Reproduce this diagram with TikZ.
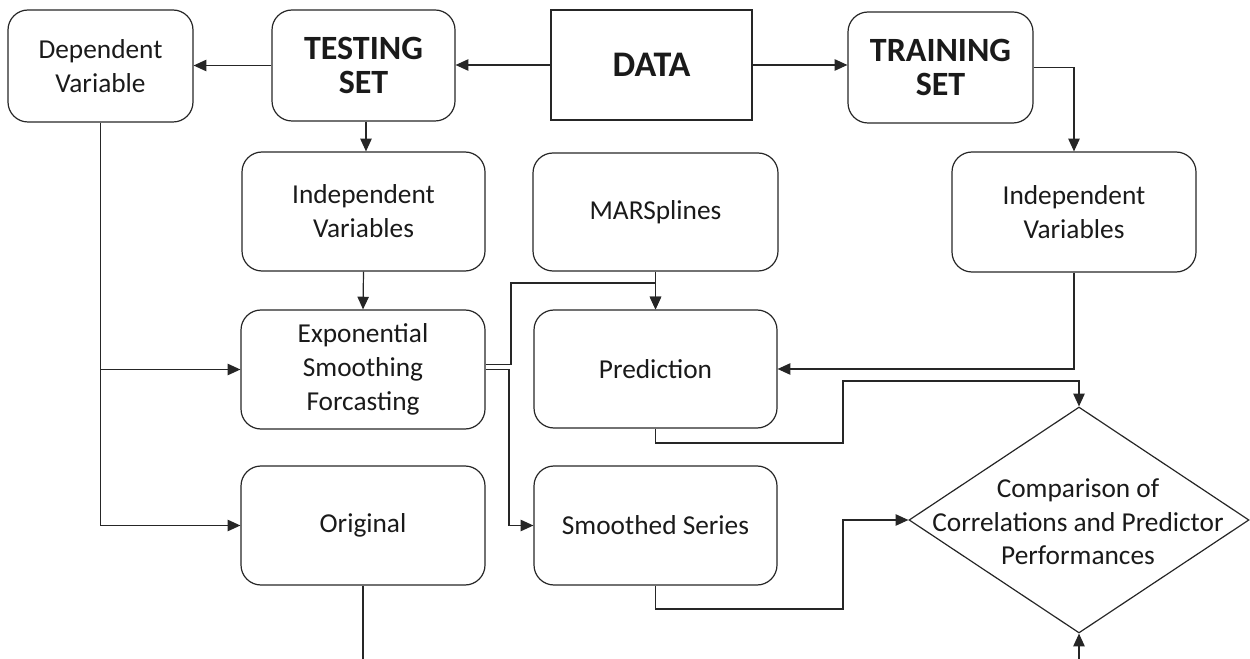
\documentclass[tikz,border=0pt]{standalone}
\usepackage{fontspec}
\setmainfont{Carlito}
\usetikzlibrary{arrows.meta,shapes.geometric,calc}
\definecolor{ink}{HTML}{1A1A1A}
\definecolor{wire}{HTML}{262626}
\begin{document}
\begin{tikzpicture}[x=0.75pt,y=-0.75pt,
  every node/.style={text=ink},
  box/.style 2 args={draw=wire,line width=0.9pt,rounded corners=15pt,align=center,
    inner sep=0pt,minimum width={#1*0.75pt},minimum height={#2*0.75pt},
    font=\fontsize{20.5pt}{25.5pt}\selectfont},
  plainbox/.style 2 args={draw=wire,line width=0.9pt,align=center,
    inner sep=0pt,minimum width={#1*0.75pt},minimum height={#2*0.75pt}},
  headfont/.style={font=\fontsize{25.5pt}{26pt}\selectfont\bfseries},
  link/.style={draw=wire,line width=0.9pt},
  arr/.style={link,-{Triangle[length=9.5pt,width=8.5pt]}}]

\useasboundingbox (0,0) rectangle (1250,659);

% top row
\node[box={185}{112}] (dep) at (100.5,66) {Dependent\\Variable};
\node[box={183}{111},headfont] (test) at (363.5,65.5) {TESTING\\SET};
\node[plainbox={201}{110},font=\fontsize{27pt}{27pt}\selectfont\bfseries] (data) at (651.5,65) {DATA};
\node[box={185}{111},headfont] (train) at (940.5,67.5) {TRAINING\\SET};

% second row
\node[box={243}{119}] (ind1) at (363.5,211.5) {Independent\\Variables};
\node[box={245}{118}] (mars) at (655.5,212) {MARSplines};
\node[box={244}{120}] (ind2) at (1074,212) {Independent\\Variables};

% third row
\node[box={244}{119}] (exp) at (363,369.5) {Exponential\\Smoothing\\Forcasting};
\node[box={243}{118}] (pred) at (655.5,369) {Prediction};

% fourth row
\node[box={244}{119}] (orig) at (363,525.5) {Original};
\node[box={243}{119}] (smooth) at (655.5,525.5) {Smoothed Series};

% decision
\node[diamond,draw=wire,line width=0.9pt,inner sep=0pt,
  minimum width=255pt,minimum height=169.5pt] (cmp) at (1079,520) {};
\node[align=center,font=\fontsize{20.5pt}{25pt}\selectfont] (cmptxt) at (1078,522)
  {Comparison of\\Correlations and Predictor\\Performances};

% routing points
\coordinate (e1) at ([yshift=3.75pt]exp.east);
\coordinate (k1) at (511,283);
\coordinate (k2) at (509,0);
\coordinate (p1) at (843,443);
\coordinate (p2) at (843,381);
\coordinate (s1) at (843,609);
\coordinate (oend) at (363,659);
\coordinate (cend) at (1079,659);

% splitting the data
\draw[arr] (test.west) -- (test.west -| dep.east);
\draw[arr] (data.west) -- (data.west -| test.east);
\draw[arr] (data.east) -- (data.east -| train.west);
\draw[arr] (train.east) -| (ind2.north);
\draw[arr] (test.south -| 366,0) -- (ind1.north -| 366,0);
\draw[arr] (ind1.south) -- (exp.north);

% dependent variable feeds
\draw[arr] (dep.south) |- (orig.west);
\draw[arr] (dep.south |- exp.west) -- (exp.west);

% smoothing outputs
\draw[arr] (e1) -| (k1) -| (pred.north);
\draw[arr] (mars.south) -- (pred.north);
\draw[arr] (exp.east) -- (exp.east -| k2) |- (smooth.west);
\draw[arr] (ind2.south) |- (pred.east);

% into the comparison
\draw[arr] (pred.south) |- (p1) -- (p2) -| (cmp.north);
\draw[arr] (smooth.south) |- (s1) |- (cmp.west);
\draw[link] (orig.south) -- (oend);
\draw[arr] (cend) -- (cmp.south);
\end{tikzpicture}
\end{document}
